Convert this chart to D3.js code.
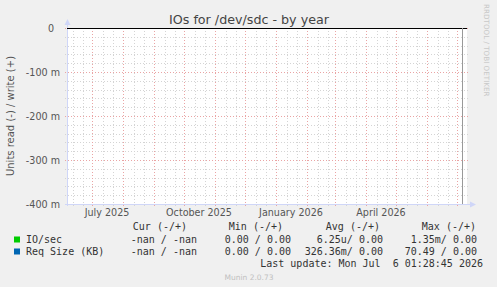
<!DOCTYPE html>
<html>
<head>
<meta charset="utf-8">
<script src="https://cdn.jsdelivr.net/npm/d3@7"></script>
<style>
  body { margin: 0; background: #f0f0f0; }
  svg { display: block; }
</style>
</head>
<body>
<div id="chart"></div>
<script>
// chart data
var yTickValues = [0, -0.1, -0.2, -0.3, -0.4];
var yTickLabels = ["0", "-100 m", "-200 m", "-300 m", "-400 m"];
var monthLabels = ["July 2025", "October 2025", "January 2026", "April 2026"];
var monthLabelDates = ["2025-07-16", "2025-10-16", "2026-01-16", "2026-04-16"];
var sampleDates = ["2025-06-06", "2025-08-01", "2025-10-01", "2025-12-01", "2026-02-01", "2026-04-01", "2026-06-01", "2026-07-06"];
var ioRead = [0, 0, 0, 0, 0, 0, 0, 0];
var ioWrite = [0, 0, 0, 0, 0, 0, 0, 0];
var reqRead = [0, 0, 0, 0, 0, 0, 0, 0];
var reqWrite = [0, 0, 0, 0, 0, 0, 0, 0];
var legendHeaders = ["Cur (-/+)", "Min (-/+)", "Avg (-/+)", "Max (-/+)"];
var legendNames = ["IO/sec", "Req Size (KB)"];
var legendColors = ["#00cc00", "#0066b3"];
var legendRows = [
	["-nan / -nan", "0.00 / 0.00", "6.25u/ 0.00", "1.35m/ 0.00"],
	["-nan / -nan", "0.00 / 0.00", "326.36m/ 0.00", "70.49 / 0.00"]
];
var lastUpdate = "Last update: Mon Jul  6 01:28:45 2026";
var nowDate = "2026-07-06";

var W = 497, H = 287;
var plot = {left: 67, right: 467, top: 28, bottom: 204};

var parseDate = d3.timeParse("%Y-%m-%d");

var svg = d3.select("#chart").append("svg")
	.attr("width", W)
	.attr("height", H)
	.style("font-family", "'DejaVu Sans', sans-serif");

svg.append("rect").attr("width", W).attr("height", H).attr("fill", "#f0f0f0");
svg.append("rect")
	.attr("x", plot.left).attr("y", plot.top)
	.attr("width", plot.right - plot.left).attr("height", plot.bottom - plot.top)
	.attr("fill", "#ffffff");

// scales
var x = d3.scaleTime()
	.domain([parseDate("2025-06-06"), parseDate("2026-07-11")])
	.range([plot.left, plot.right]);
var y = d3.scaleLinear()
	.domain([-0.4, 0])
	.range([plot.bottom, plot.top]);

// minor grid (grey), horizontal every 20 m
var minorY = d3.range(-0.4, 0.0001, 0.02).filter(function(v) {
	return Math.abs(Math.round(v * 10) - v * 10) > 0.01;
});
svg.append("g").selectAll("line").data(minorY).enter().append("line")
	.attr("x1", plot.left - 2).attr("x2", plot.right + 2)
	.attr("y1", function(d) { return Math.round(y(d)) + 0.5; })
	.attr("y2", function(d) { return Math.round(y(d)) + 0.5; })
	.attr("stroke", "#d4d4d4").attr("stroke-dasharray", "1,2");

// minor vertical grid, roughly every 10 days
var minorX = [];
d3.timeMonth.range(parseDate("2025-06-01"), parseDate("2026-08-01")).forEach(function(m) {
	[11, 21].forEach(function(k) { minorX.push(d3.timeDay.offset(m, k)); });
});
minorX = minorX.filter(function(d) { return x(d) > plot.left && x(d) < plot.right; });
svg.append("g").selectAll("line").data(minorX).enter().append("line")
	.attr("x1", function(d) { return Math.round(x(d)) + 0.5; })
	.attr("x2", function(d) { return Math.round(x(d)) + 0.5; })
	.attr("y1", plot.top).attr("y2", plot.bottom + 2)
	.attr("stroke", "#d4d4d4").attr("stroke-dasharray", "1,2");

// major grid (red)
svg.append("g").selectAll("line").data(yTickValues).enter().append("line")
	.attr("x1", plot.left - 2).attr("x2", plot.right + 2)
	.attr("y1", function(d) { return Math.round(y(d)) + 0.5; })
	.attr("y2", function(d) { return Math.round(y(d)) + 0.5; })
	.attr("stroke", "#eaa4a4").attr("stroke-dasharray", "1,2");

var majorX = d3.timeMonth.range(parseDate("2025-06-07"), parseDate("2026-07-11"));
svg.append("g").selectAll("line").data(majorX).enter().append("line")
	.attr("x1", function(d) { return Math.round(x(d)) + 0.5; })
	.attr("x2", function(d) { return Math.round(x(d)) + 0.5; })
	.attr("y1", plot.top).attr("y2", plot.bottom + 2)
	.attr("stroke", "#eaa4a4").attr("stroke-dasharray", "1,2");

// axes
svg.append("line")
	.attr("x1", plot.left + 0.5).attr("x2", plot.left + 0.5)
	.attr("y1", plot.bottom + 2).attr("y2", plot.top - 6)
	.attr("stroke", "#cfd6f8");
svg.append("path")
	.attr("d", "M" + (plot.left - 2.5) + "," + (plot.top - 3) + "L" + (plot.left + 0.5) + "," + (plot.top - 9) + "L" + (plot.left + 3.5) + "," + (plot.top - 3) + "Z")
	.attr("fill", "#cfd6f8");
svg.append("line")
	.attr("x1", plot.left - 2).attr("x2", plot.right + 4)
	.attr("y1", plot.bottom + 0.5).attr("y2", plot.bottom + 0.5)
	.attr("stroke", "#cfd6f8");
svg.append("path")
	.attr("d", "M" + (plot.right + 3) + "," + (plot.bottom - 2.5) + "L" + (plot.right + 9) + "," + (plot.bottom + 0.5) + "L" + (plot.right + 3) + "," + (plot.bottom + 3.5) + "Z")
	.attr("fill", "#cfd6f8");

// data lines (all zero)
var line = d3.line()
	.x(function(d) { return x(d[0]); })
	.y(function(d) { return Math.round(y(d[1])) + 0.5; });
var dates = sampleDates.map(parseDate);
[[ioRead, legendColors[0]], [ioWrite, legendColors[0]], [reqRead, legendColors[1]], [reqWrite, legendColors[1]]].forEach(function(s) {
	svg.append("path")
		.datum(dates.map(function(d, i) { return [d, -s[0][i]]; }))
		.attr("d", line)
		.attr("fill", "none")
		.attr("stroke", s[1]);
});

// zero rule
svg.append("line")
	.attr("x1", plot.left).attr("x2", plot.right)
	.attr("y1", Math.round(y(0)) + 0.5).attr("y2", Math.round(y(0)) + 0.5)
	.attr("stroke", "#000000");

// now marker
svg.append("line")
	.attr("x1", Math.round(x(parseDate(nowDate))) + 0.5).attr("x2", Math.round(x(parseDate(nowDate))) + 0.5)
	.attr("y1", plot.top).attr("y2", plot.bottom)
	.attr("stroke", "#999999");

// y labels
svg.append("g").selectAll("text").data(yTickValues).enter().append("text")
	.attr("x", function(d, i) { return yTickLabels[i].indexOf("m") < 0 ? 54 : 60; })
	.attr("y", function(d) { return y(d) + 3.5; })
	.attr("text-anchor", "end")
	.attr("font-size", "9.6px")
	.attr("fill", "#555555")
	.text(function(d, i) { return yTickLabels[i]; });

// x labels
svg.append("g").selectAll("text").data(monthLabels).enter().append("text")
	.attr("x", function(d, i) { return x(parseDate(monthLabelDates[i])); })
	.attr("y", 216)
	.attr("text-anchor", "middle")
	.attr("font-size", "9.6px")
	.attr("fill", "#555555")
	.text(function(d) { return d; });

// title
svg.append("text")
	.attr("x", 249).attr("y", 24)
	.attr("text-anchor", "middle")
	.attr("font-size", "12.7px")
	.attr("fill", "#444444")
	.text("IOs for /dev/sdc - by year");

// vertical label
svg.append("text")
	.attr("transform", "translate(14," + ((plot.top + plot.bottom) / 2) + ") rotate(-90)")
	.attr("text-anchor", "middle")
	.attr("font-size", "10px")
	.attr("fill", "#555555")
	.text("Units read (-) / write (+)");

svg.append("text")
	.attr("transform", "translate(484,4) rotate(90)")
	.attr("font-size", "7.2px")
	.attr("fill", "#c8c8c8")
	.text("RRDTOOL / TOBI OETIKER");

// legend
var mono = "'DejaVu Sans Mono', monospace";
var colEnds = [197, 291, 383, 477];
var headEnds = [187, 283, 380, 476];
svg.append("g").selectAll("text").data(legendHeaders).enter().append("text")
	.attr("x", function(d, i) { return headEnds[i]; })
	.attr("y", 230)
	.attr("text-anchor", "end")
	.attr("font-family", mono).attr("font-size", "10px")
	.attr("fill", "#333333")
	.style("white-space", "pre")
	.text(function(d) { return d; });

legendNames.forEach(function(name, r) {
	var yy = 243 + r * 12;
	svg.append("rect")
		.attr("x", 14).attr("y", yy - 6.5)
		.attr("width", 6).attr("height", 6)
		.attr("fill", legendColors[r]);
	svg.append("text")
		.attr("x", 26).attr("y", yy)
		.attr("font-family", mono).attr("font-size", "10px")
		.attr("fill", "#333333")
		.text(name);
	legendRows[r].forEach(function(v, c) {
		svg.append("text")
			.attr("x", colEnds[c]).attr("y", yy)
			.attr("text-anchor", "end")
			.attr("font-family", mono).attr("font-size", "10px")
			.attr("fill", "#333333")
			.style("white-space", "pre")
			.text(v);
	});
});

svg.append("text")
	.attr("x", 483).attr("y", 267)
	.attr("text-anchor", "end")
	.attr("font-family", mono).attr("font-size", "10px")
	.attr("fill", "#333333")
	.style("white-space", "pre")
	.text(lastUpdate);

svg.append("text")
	.attr("x", 249).attr("y", 280)
	.attr("text-anchor", "middle")
	.attr("font-size", "7.5px")
	.attr("fill", "#c0c0c0")
	.text("Munin 2.0.73");
</script>
</body>
</html>
